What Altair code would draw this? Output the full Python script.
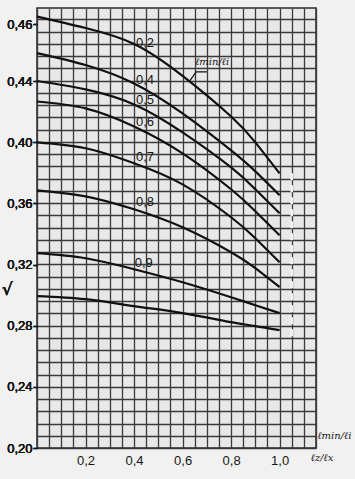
import altair as alt
import pandas as pd

# ---- data ----
x_vals = [0.0, 0.2, 0.4, 0.6, 0.8, 0.9, 1.0]
series_names = ["0,2", "0,4", "0,5", "0,6", "0,7", "0,8", "0,9", "1,0"]
nu_02 = [0.4626, 0.4586, 0.4530, 0.4418, 0.4168, 0.3999, 0.3796]
nu_04 = [0.4498, 0.4456, 0.4384, 0.4188, 0.3946, 0.3809, 0.3653]
nu_05 = [0.4400, 0.4345, 0.4247, 0.4064, 0.3835, 0.3692, 0.3535]
nu_06 = [0.4266, 0.4221, 0.4103, 0.3927, 0.3692, 0.3548, 0.3391]
nu_07 = [0.3999, 0.3960, 0.3862, 0.3724, 0.3509, 0.3372, 0.3215]
nu_08 = [0.3685, 0.3646, 0.3561, 0.3443, 0.3280, 0.3176, 0.3052]
nu_09 = [0.3274, 0.3241, 0.3169, 0.3084, 0.2986, 0.2934, 0.2882]
nu_10 = [0.2993, 0.2973, 0.2928, 0.2882, 0.2823, 0.2797, 0.2771]
all_series = [nu_02, nu_04, nu_05, nu_06, nu_07, nu_08, nu_09, nu_10]

label_text = ["0,2", "0,4", "0,5", "0,6", "0,7", "0,8", "0,9"]
label_x = [0.445, 0.445, 0.445, 0.445, 0.445, 0.445, 0.44]
label_y = [0.4533, 0.4404, 0.4276, 0.4133, 0.3904, 0.3610, 0.3212]

y_tick_values = [0.20, 0.24, 0.28, 0.32, 0.36, 0.40, 0.44, 0.46]
x_tick_values = [0.2, 0.4, 0.6, 0.8, 1.0]
x_grid_step = 0.05
y_grid_step = 0.008

leader_x = [0.627, 0.656, 0.70]
leader_y = [0.4394, 0.4432, 0.4432]

notes_text = ["\u2113min/\u2113i", "\u2113min/\u2113i", "\u2113z/\u2113x"]
notes_x = [0.722, 1.226, 1.175]
notes_y = [0.4465, 0.2078, 0.1935]

gap_x = [1.05]
gap_y = [0.273]
gap_y2 = [0.382]

# ---- tables ----
rows = []
for name, vals in zip(series_names, all_series):
    for xv, yv in zip(x_vals, vals):
        rows.append({"r": name, "x": xv, "nu": yv})
curves = pd.DataFrame(rows)
labels = pd.DataFrame({"t": label_text, "x": label_x, "nu": label_y})
leader = pd.DataFrame({"x": leader_x, "nu": leader_y, "o": list(range(len(leader_x)))})
notes = pd.DataFrame({"t": notes_text, "x": notes_x, "nu": notes_y})
gap = pd.DataFrame({"x": gap_x, "nu": gap_y, "nu2": gap_y2})
gridpt = pd.DataFrame({"x": [0.0], "g": [0.2]})

W, H = 279, 440
x_grid_vals = [round(k * x_grid_step, 2) for k in range(int(round(1.15 / x_grid_step)) + 1)]
y_grid_vals = [round(0.2 + k * y_grid_step, 3) for k in range(36)]

FONT = "Liberation Sans"
INK = "#161616"
GRID = "#3a3a3a"

x_scale = alt.Scale(domain=[0, 1.15], nice=False, zero=False)
x_axis = alt.Axis(
    values=x_grid_vals, grid=True, gridColor=GRID, gridWidth=1.3,
    ticks=False, domain=False, labelOverlap=False, labelFlush=False,
    labelExpr="(datum.value > 0.1 && datum.value < 1.01 && abs(datum.value*5 - round(datum.value*5)) < 0.001) ? replace(format(datum.value, '.1f'), '.', ',') : ''",
    labelFont=FONT, labelFontSize=13, labelColor=INK, labelPadding=6, title=None,
)
# the printed scale is not uniform at the very top (0,44 -> 0,46 is stretched)
y_scale = alt.Scale(domain=[0.20, 0.44, 0.46, 0.4656], range=[H, 73, 16, 0], nice=False, zero=False)
y_axis = alt.Axis(
    values=y_tick_values, grid=False, domain=False, ticks=True, tickSize=4,
    tickColor=INK, tickWidth=1.2, orient="left",
    labelExpr="replace(format(datum.value, '.2f'), '.', ',')",
    labelFont=FONT, labelFontSize=13, labelColor=INK, labelPadding=1,
    title="\u221a", titleAngle=0, titleX=-30, titleY=290, titleFontSize=17,
    titleFontWeight="normal", titleColor=INK, titleFont="DejaVu Sans",
)


def X(f="x"):
    return alt.X(f, type="quantitative", scale=x_scale, axis=x_axis)


def Y(f="nu"):
    return alt.Y(f, type="quantitative", scale=y_scale, axis=y_axis)


grid_layer = alt.Chart(gridpt).mark_point(opacity=0).encode(
    x=X(),
    y=alt.Y("g:Q", scale=alt.Scale(domain=[0.2, 0.2 + H / 1531], nice=False, zero=False),
            axis=alt.Axis(values=y_grid_vals, grid=True, gridColor=GRID, gridWidth=1.3,
                          labels=False, ticks=False, domain=False, orient="right", title=None)),
)

lines = alt.Chart(curves).mark_line(color="#111111", strokeWidth=2.2, interpolate="natural").encode(
    x=X(), y=Y(), detail="r:N"
)

text_labels = alt.Chart(labels).mark_text(font=FONT, fontSize=13, color=INK, baseline="middle", align="center").encode(
    x=X(), y=Y(), text="t:N"
)

leader_line = alt.Chart(leader).mark_line(color="#111111", strokeWidth=1.2).encode(
    x=X(), y=Y(), order="o:Q"
)

note_text = alt.Chart(notes).mark_text(font="DejaVu Serif", fontStyle="italic", fontSize=10, color=INK, baseline="middle", align="center").encode(
    x=X(), y=Y(), text="t:N"
)

gap_rule = alt.Chart(gap).mark_rule(color="#f4f4f4", strokeWidth=2.5, strokeDash=[7, 5]).encode(
    x=X(), y=Y(), y2="nu2:Q"
)

chart = alt.layer(grid_layer, lines, gap_rule, leader_line, text_labels, note_text).resolve_scale(
    y="independent"
).resolve_axis(y="independent").properties(
    width=W, height=H,
    autosize=alt.AutoSizeParams(type="none"),
    padding={"left": 37, "top": 8, "right": 355 - 37 - W, "bottom": 479 - 8 - H},
    background="#f1f1f1",
).configure_view(fill="#e8e8e8", stroke="#2b2b2b", strokeWidth=1.5)

chart.save("out.html", embed_options={"renderer": "svg", "actions": False})
